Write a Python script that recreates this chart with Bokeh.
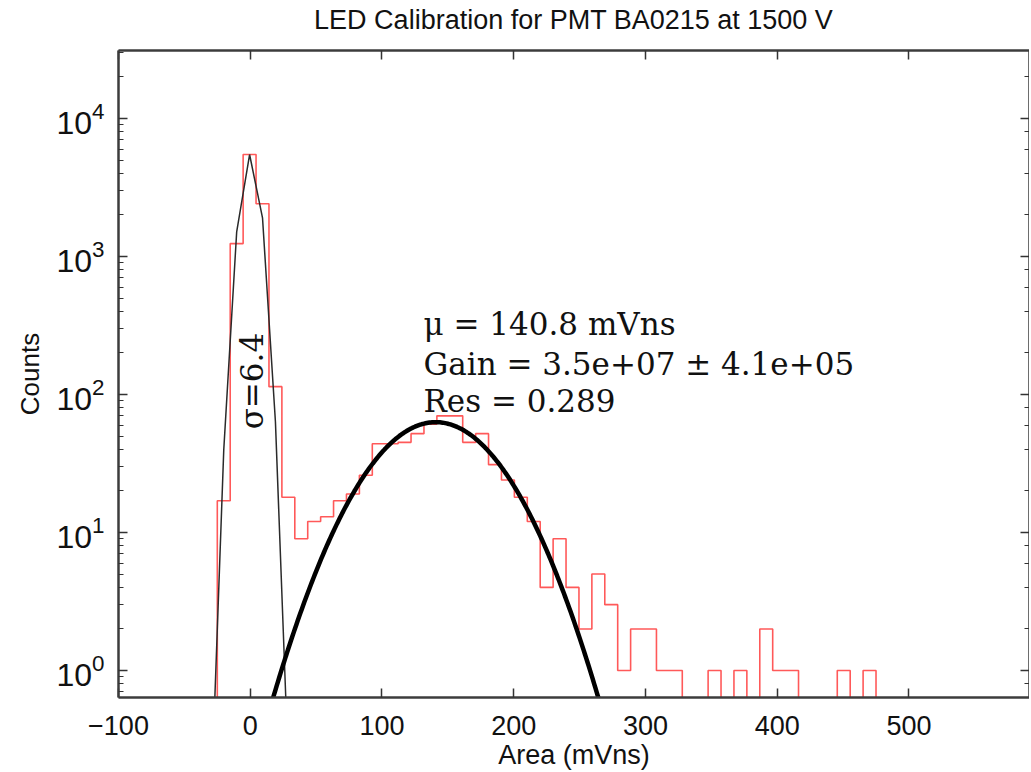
import numpy as np
from bokeh.plotting import figure
from bokeh.layouts import column
from bokeh.models import (Range1d, LinearAxis, LogAxis, Label, FixedTicker,
                          CustomJSTickFormatter, Div)
from bokeh.embed import file_html
from bokeh.resources import INLINE

# ---- data ----
bin_lo = -25.0
bin_hi = 475.0
n_bins = 51
counts = [17, 1240, 5480, 2410, 114, 18, 9, 12, 13, 17,
          19, 26, 44, 44, 45, 52, 61, 70, 70, 45,
          52, 31, 24, 18, 12, 4, 9, 4, 2, 5,
          3, 1, 2, 2, 1, 1, 0, 0, 1, 0,
          1, 0, 2, 1, 1, 0, 0, 0, 1, 0,
          1]
x_ticks = [-100, 0, 100, 200, 300, 400, 500]

# fit parameters
ped_amp, ped_mu, ped_sigma = 5500.0, 0.0, 6.4
spe_amp, spe_mu, spe_sigma = 63.0, 140.8, 40.7

title_text = "LED Calibration for PMT BA0215 at 1500 V"
x_label = "Area (mVns)"
y_label = "Counts"
fit_lines = ["\u03bc = 140.8 mVns", "Gain = 3.5e+07 \u00b1 4.1e+05", "Res = 0.289"]
fit_line_y = [322, 167, 89]
ped_label = "\u03c3=6.4"

# ---- derived geometry ----
edges = np.linspace(bin_lo, bin_hi, n_bins + 1)
bw = edges[1] - edges[0]
floor = 1e-3
c = np.array(counts, dtype=float)
c_plot = np.where(c > 0, c, floor)
hx = np.repeat(edges, 2)
hy = np.concatenate([[floor], np.repeat(c_plot, 2), [floor]])

ped_x = bin_lo + bw / 2 + bw * np.arange(-3, 8)
ped_y = ped_amp * np.exp(-0.5 * ((ped_x - ped_mu) / ped_sigma) ** 2)

spe_x = np.linspace(-20, 300, 321)
spe_y = spe_amp * np.exp(-0.5 * ((spe_x - spe_mu) / spe_sigma) ** 2)

x_lo, x_hi = -100, 591.5
y_lo, y_hi = 0.637, 31100

p = figure(title=None, x_range=Range1d(x_lo, x_hi), y_range=Range1d(y_lo, y_hi),
           y_axis_type="log", output_backend="svg", toolbar_location=None,
           frame_width=911, frame_height=647,
           min_border_left=118, min_border_right=0, min_border_top=10,
           min_border_bottom=73, background_fill_color="white", margin=0)
p.xgrid.visible = False
p.ygrid.visible = False
p.outline_line_color = None


def style(ax):
    ax.axis_line_width = 2.5
    ax.axis_line_color = "#3c3c3c"
    ax.major_tick_in = 9
    ax.major_tick_out = 0
    ax.minor_tick_in = 5
    ax.minor_tick_out = 0
    ax.major_tick_line_color = "#333333"
    ax.major_tick_line_width = 1.5
    ax.minor_tick_line_color = "#333333"
    ax.minor_tick_line_width = 1.2


xa = p.xaxis[0]
style(xa)
xa.ticker = FixedTicker(ticks=x_ticks)
xa.minor_tick_line_color = None
xa.major_label_text_font = "Liberation Sans"
xa.major_label_text_font_size = "27px"
xa.major_label_text_color = "#111111"
xa.major_label_standoff = 18
xa.axis_label = x_label
xa.axis_label_text_font = "Liberation Sans"
xa.axis_label_text_font_size = "27px"
xa.axis_label_text_font_style = "normal"
xa.axis_label_text_color = "#111111"
xa.axis_label_standoff = 2

ya = p.yaxis[0]
style(ya)
ya.major_label_text_font = "Liberation Sans"
ya.major_label_text_font_size = "32px"
ya.major_label_text_color = "#111111"
ya.major_label_standoff = 14
ya.axis_label = y_label
ya.axis_label_text_font = "Liberation Sans"
ya.axis_label_text_font_size = "26px"
ya.axis_label_text_font_style = "normal"
ya.axis_label_text_color = "#111111"
ya.axis_label_standoff = 8

top = LinearAxis(ticker=FixedTicker(ticks=x_ticks),
                 formatter=CustomJSTickFormatter(code="return '';"),
                 major_label_standoff=0)
style(top)
top.minor_tick_line_color = None
p.add_layout(top, "above")

right = LogAxis(formatter=CustomJSTickFormatter(code="return '';"),
                major_label_standoff=0)
style(right)
p.add_layout(right, "right")

# histogram
p.line(hx, hy, line_color="#ff3030", line_width=1.6, line_alpha=0.8)
# pedestal fit
p.line(ped_x, ped_y, line_color="#2a2a2a", line_width=1.5)
# SPE fit
p.line(spe_x, spe_y, line_color="black", line_width=4.5)

for txt, yy in zip(fit_lines, fit_line_y):
    p.add_layout(Label(x=131.5, y=yy, text=txt, text_font="DejaVu Serif",
                       text_font_size="31px", text_baseline="alphabetic",
                       text_align="left", text_color="#111111"))

p.add_layout(Label(x=1.0, y=125, text=ped_label, angle=np.pi / 2,
                   text_font="DejaVu Serif", text_font_size="31px",
                   text_align="center", text_baseline="middle",
                   text_color="#111111"))

title_div = Div(text=title_text, width=911, height=40, margin=(0, 0, 0, 118),
                styles={"text-align": "center", "font-family": "Liberation Sans",
                        "font-size": "27px", "line-height": "40px",
                        "color": "#111111", "white-space": "nowrap"})

layout = column(title_div, p, spacing=0)

open("out.html", "w").write(file_html(layout, INLINE))
